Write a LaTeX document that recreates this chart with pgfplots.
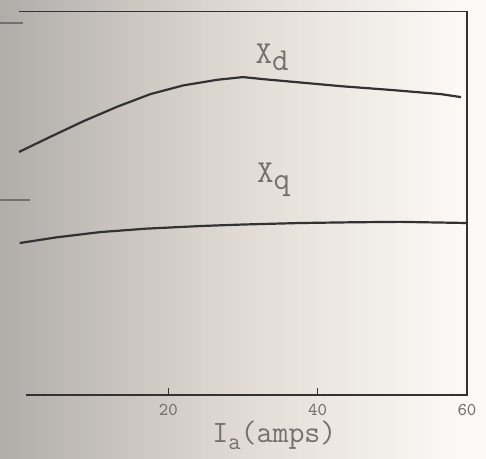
\documentclass[border=0pt]{standalone}
\usepackage{pgfplots}
\pgfplotsset{compat=1.18}

\definecolor{scanL}{RGB}{164,162,158}
\definecolor{scanM}{RGB}{226,219,213}
\definecolor{scanR}{RGB}{251,249,246}
\definecolor{ink}{RGB}{50,50,50}
\definecolor{faint}{RGB}{115,112,110}
\pgfdeclarehorizontalshading{scan}{100bp}{%
  color(0bp)=(scanL); color(25bp)=(scanL!80!scanM); color(50bp)=(scanM);
  color(72bp)=(scanR); color(100bp)=(scanR)}

\begin{document}
\begin{tikzpicture}
  \useasboundingbox (0,0) rectangle (243pt,229.5pt);
  \fill[shading=scan] (0,0) rectangle (243pt,229.5pt);
  \begin{axis}[
    at={(9.5pt,32pt)}, anchor=south west,
    scale only axis, width=224pt, height=189pt,
    xmin=0, xmax=60, ymin=0, ymax=100,
    axis line style={draw=none},
    xtick={20,40,60}, ytick=\empty,
    tick pos=left, tick align=inside,
    major tick length=3.5pt,
    tick style={ink, line width=0.6pt},
    /pgf/number format/assume math mode=true,
    ticklabel style={font=\ttfamily\small, text=faint},
    xticklabel style={yshift=-1pt},
    clip=false,
  ]
    % X_d
    \addplot[ink, line width=1.1pt] coordinates {
      (0,64.3) (4.2,68.3) (8.6,72.4) (13.2,76.3) (17.6,79.6) (22.0,81.9)
      (26.6,83.4) (30.0,84.1) (33.0,83.5) (36.4,82.9) (43.1,81.7)
      (49.8,80.7) (56.5,79.6) (59.2,78.8)};
    % X_q
    \addplot[ink, line width=1.1pt] coordinates {
      (0.1,40.2) (5,41.7) (10.9,43.1) (17,44.0) (24.3,44.7) (30,45.1)
      (37.7,45.5) (45,45.7) (51.1,45.8) (60,45.5)};
    % frame: top, right, bottom (left edge cut off in the scan)
    \draw[ink, line width=0.8pt] (axis cs:0,101.5) -- (axis cs:60,101.5)
      -- (axis cs:60,0) -- (axis cs:1,0);
    \draw[faint, line width=0.8pt] (axis cs:-2.5,98.4) -- (axis cs:0.5,98.4);
    \draw[faint, line width=0.8pt] (axis cs:-2.5,51.6) -- (axis cs:1.5,51.6);
    \node[text=faint, font=\ttfamily\fontsize{16}{18}\selectfont]
      at (axis cs:33.9,89.4) {X\raisebox{-0.5ex}{d}};
    \node[text=faint, font=\ttfamily\fontsize{16}{18}\selectfont]
      at (axis cs:34.1,56.9) {X\raisebox{-0.5ex}{q}};
    \node[text=faint, font=\ttfamily\fontsize{15.5}{17}\selectfont]
      at (axis cs:34.2,-10.6) {I\raisebox{-0.5ex}{\large a}(amps)};
  \end{axis}
\end{tikzpicture}
\end{document}
